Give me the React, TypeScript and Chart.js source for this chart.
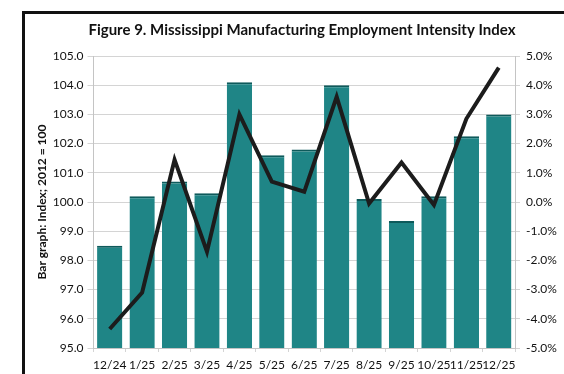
import React, { useEffect, useRef } from "react";
import { Chart, registerables } from "chart.js";

Chart.register(...registerables);

const categories = ["12/24", "1/25", "2/25", "3/25", "4/25", "5/25", "6/25", "7/25", "8/25", "9/25", "10/25", "11/25", "12/25"];
const indexValues = [98.5, 100.2, 100.7, 100.3, 104.1, 101.6, 101.8, 104.0, 100.1, 99.35, 100.2, 102.25, 103.0];
const changeValues = [-4.35, -3.1, 1.45, -1.7, 3.0, 0.7, 0.35, 3.6, -0.05, 1.35, -0.1, 2.85, 4.6];
const titleText = "Figure 9. Mississippi Manufacturing Employment Intensity Index";
const leftAxisTitle = "Bar graph: Index; 2012 = 100";

const FONT = "Lato, 'Open Sans', sans-serif";

export default function App() {
  const ref = useRef<HTMLCanvasElement | null>(null);

  useEffect(() => {
    if (!ref.current) return;
    const chart = new Chart(ref.current, {
      data: {
        labels: categories,
        datasets: [
          {
            type: "line",
            data: changeValues,
            yAxisID: "y1",
            borderColor: "#1c1c1c",
            borderWidth: 4,
            pointRadius: 0,
            tension: 0,
            order: 0,
          },
          {
            type: "bar",
            data: indexValues,
            yAxisID: "y",
            backgroundColor: "#1f8586",
            borderColor: "#0e5a5b",
            borderWidth: { top: 2, left: 0, right: 0, bottom: 0 },
            borderSkipped: false,
            barPercentage: 0.78,
            categoryPercentage: 1,
            order: 1,
          },
        ],
      },
      options: {
        responsive: false,
        animation: false,
        layout: { padding: { left: 40, right: 0, top: 0, bottom: 0 } },
        plugins: {
          legend: { display: false },
          tooltip: { enabled: false },
          title: {
            display: true,
            text: titleText,
            color: "#111",
            font: { family: FONT, size: 15, weight: "bold" },
            padding: { top: 21, bottom: 17 },
          },
        },
        scales: {
          x: {
            offset: true,
            grid: {
              display: true,
              offset: true,
              drawOnChartArea: false,
              tickLength: 4,
              color: "#d4d4d4",
            },
            border: { color: "#c4c4c4" },
            ticks: {
              color: "#111",
              padding: 6,
              maxRotation: 0,
              autoSkip: false,
              font: { family: FONT, size: 12 },
            },
            afterFit: (s: any) => {
              s.height = 26;
            },
          },
          y: {
            position: "left",
            min: 95,
            max: 105,
            ticks: {
              stepSize: 1,
              color: "#111",
              padding: 4,
              font: { family: FONT, size: 12 },
              callback: (v: any) => Number(v).toFixed(1),
            },
            grid: { color: "#d4d4d4", tickLength: 6 },
            border: { color: "#c4c4c4" },
            title: {
              display: true,
              text: leftAxisTitle,
              color: "#111",
              font: { family: FONT, size: 12, weight: "bold" },
              padding: { top: -5, bottom: 0 },
            },
            afterFit: (s: any) => {
              s.width = 53.5;
            },
          },
          y1: {
            position: "right",
            min: -5,
            max: 5,
            ticks: {
              stepSize: 1,
              color: "#111",
              padding: 6,
              font: { family: FONT, size: 12 },
              callback: (v: any) => Number(v).toFixed(1) + "%",
            },
            grid: { drawOnChartArea: false, color: "#d4d4d4", tickLength: 5 },
            border: { color: "#c4c4c4" },
            afterFit: (s: any) => {
              s.width = 49;
            },
          },
        },
      },
    } as any);
    return () => chart.destroy();
  }, []);

  return (
    <div style={{ position: "fixed", left: 0, top: 0, width: 564, height: 374, background: "#fff", overflow: "hidden" }}>
      <div
        style={{
          position: "absolute",
          left: 22,
          top: 11,
          width: 620,
          height: 420,
          borderLeft: "3px solid #111",
          borderTop: "3px solid #111",
          boxSizing: "border-box",
        }}
      />
      <canvas ref={ref} width={564} height={374} style={{ position: "absolute", left: 0, top: 0 }} />
    </div>
  );
}
